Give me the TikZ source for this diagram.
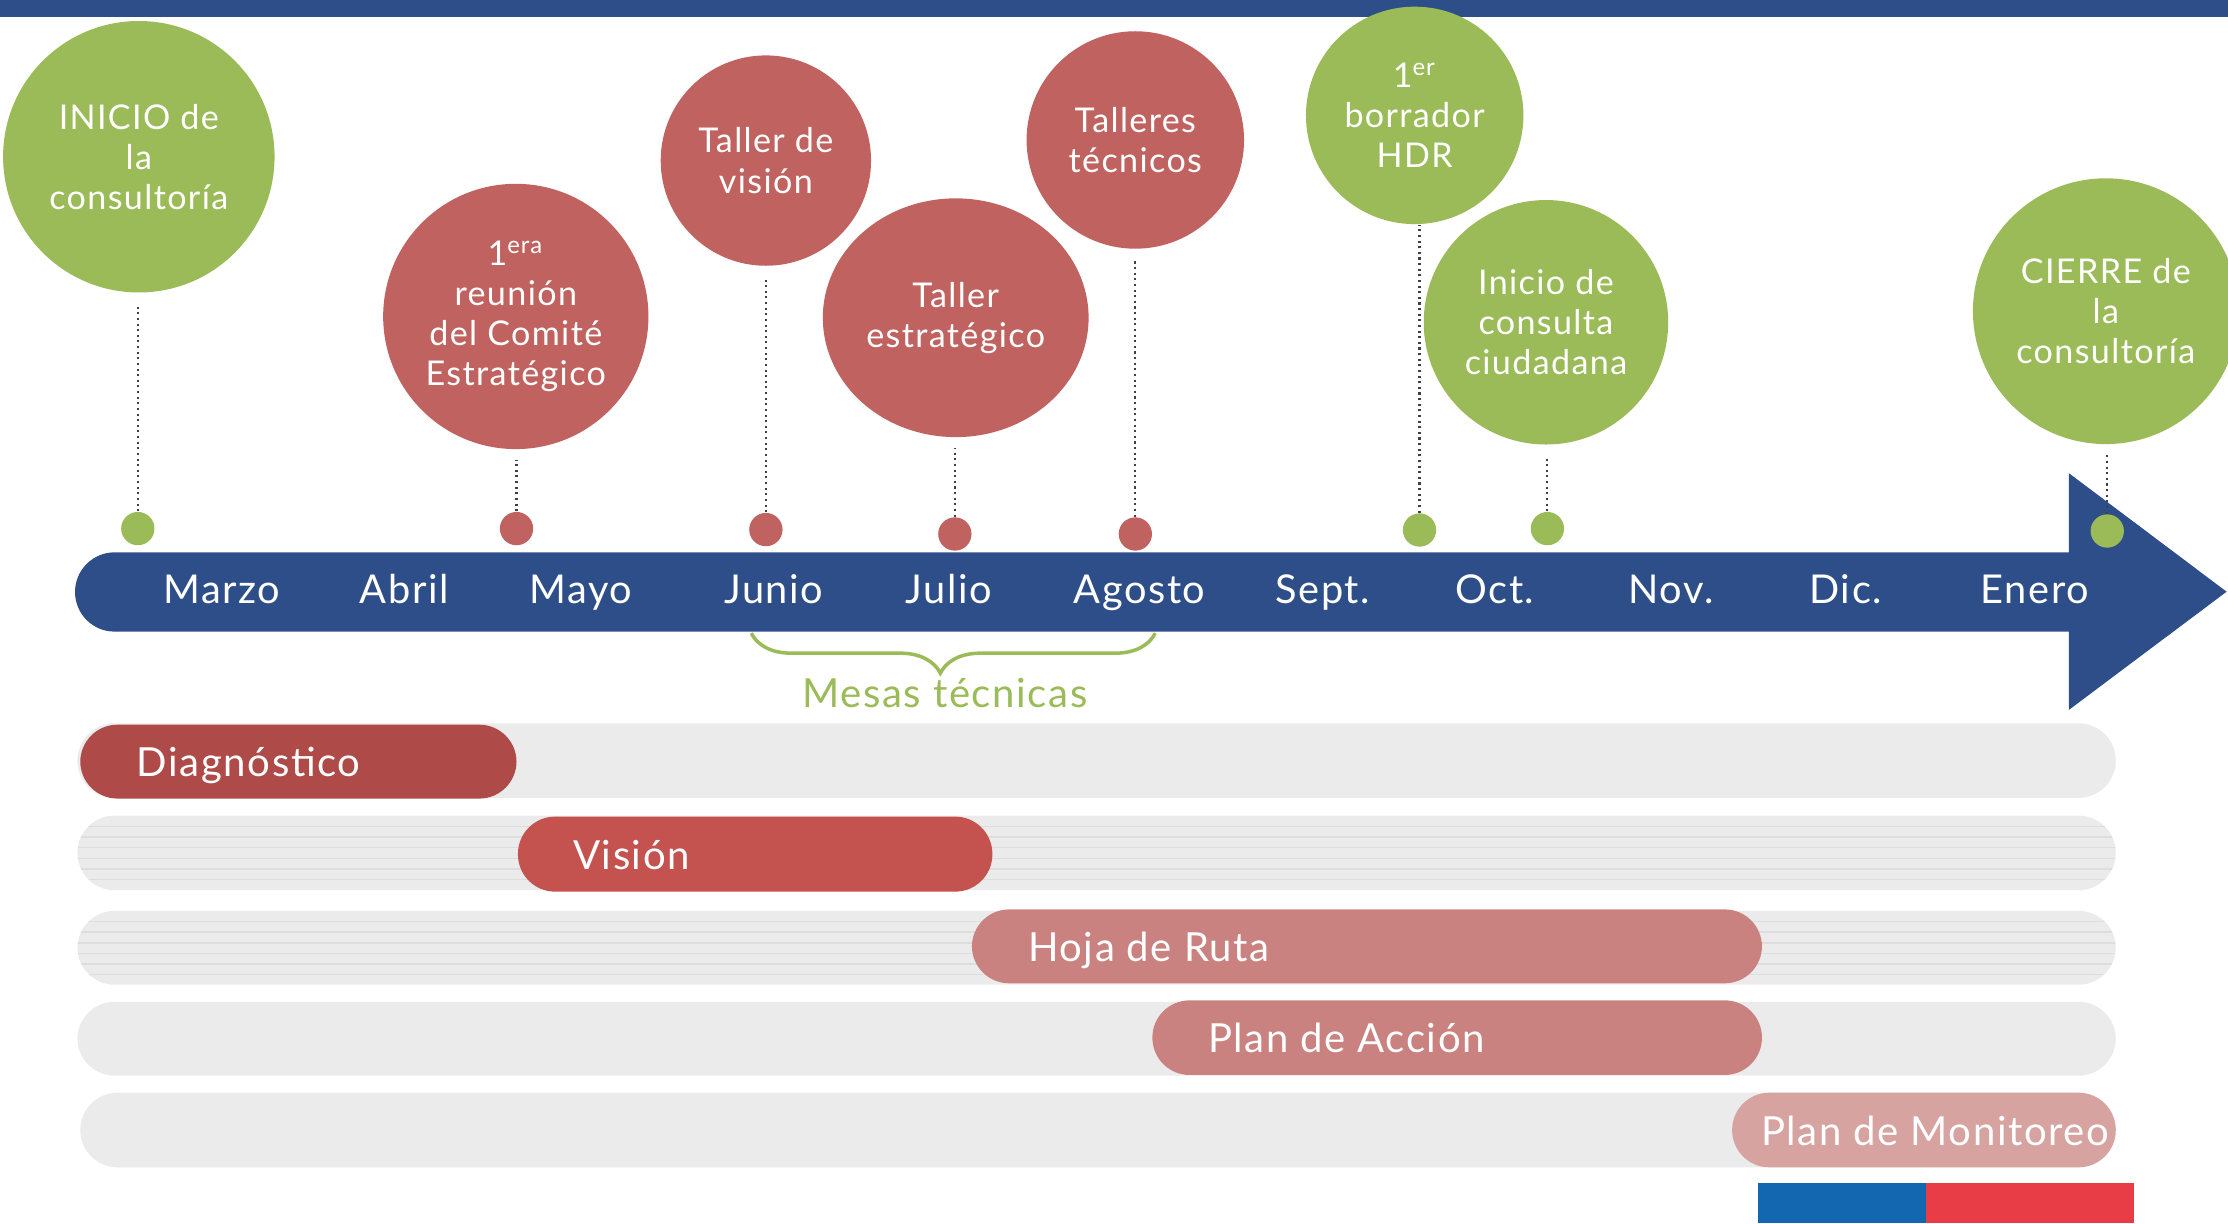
\documentclass[tikz,border=0pt]{standalone}
\usepackage{fontspec}
\setmainfont{Lato}[LetterSpace=4]
\usetikzlibrary{positioning}
\usetikzlibrary{shapes.geometric}
\usetikzlibrary{decorations.pathreplacing}
\definecolor{azul}{HTML}{2E4E8A}
\definecolor{verde}{HTML}{9BBB59}
\definecolor{rojo}{HTML}{C0625F}
\definecolor{gris}{HTML}{EBEBEB}
\definecolor{grisl}{HTML}{DDDDDD}
\definecolor{fase1}{HTML}{AE4A47}
\definecolor{fase2}{HTML}{C4524E}
\definecolor{fase3}{HTML}{C98280}
\definecolor{fase4}{HTML}{D6A3A1}
\definecolor{flagblue}{HTML}{1267B0}
\definecolor{flagred}{HTML}{E83C46}
\tikzset{hito/.style={circle, minimum size=#1, inner sep=0pt, text=white, align=center, font=\fontsize{9.7}{11.4}\selectfont}}
\tikzset{punto/.style={circle, minimum size=0.333cm, inner sep=0pt}}
\tikzset{guia/.style={densely dotted, line width=0.6pt, gray!50!black, shorten >=0.1cm}}
\tikzset{mes/.style={anchor=base, text=white, inner sep=0pt, font=\fontsize{11.3}{13}\selectfont}}
\tikzset{fondo/.style={gris, rounded corners=0.372cm}}
\tikzset{fase/.style={rounded corners=0.372cm}}
\tikzset{fasetxt/.style={anchor=base west, text=white, inner sep=0pt, font=\fontsize{11.4}{13}\selectfont}}

\begin{document}
\begin{tikzpicture}[x=0.01421cm, y=-0.01421cm]
\useasboundingbox (0,0) rectangle (1568,861);

% franja superior
\fill[azul] (0,0) rectangle (1568,12);

% linea de tiempo
\fill[azul] [rounded corners=0.396cm] (1456,444.5) -- (52.8,444.5) -- (52.8,388.7) [sharp corners] -- (1456,388.7)
  -- (1456,333) -- (1567,416.4) -- (1456,499.6) -- cycle;

% hitos
\node (inicio) [hito=2.714cm, fill=verde] at (97.7,110.3) {INICIO de\\la\\consultoría};
\node (reunion) [hito=2.652cm, fill=rojo] at (363,222.7) {1\textsuperscript{era}\\reunión\\del Comité\\Estratégico};
\node (tvision) [hito=2.103cm, fill=rojo] at (539,113) {Taller de\\visión};
\node (testrat) [hito=0pt, ellipse, minimum width=2.657cm, minimum height=2.387cm, fill=rojo] at (672.6,223.6) {Taller\\estratégico};
\node (ttecn) [hito=2.174cm, fill=rojo] at (799,98.5) {Talleres\\técnicos};
\node (borrador) [hito=2.174cm, fill=verde] at (995.6,81.2) {1\textsuperscript{er}\\borrador\\HDR};
\node (consulta) [hito=2.444cm, fill=verde] at (1088,226.8) {Inicio de\\consulta\\ciudadana};
\node (cierre) [hito=2.657cm, fill=verde] at (1482,219) {CIERRE de\\la\\consultoría};

% puntos sobre la linea
\node (p1) [punto, fill=verde] at (97,372) {};
\node (p2) [punto, fill=rojo] at (363.5,372) {};
\node (p3) [punto, fill=rojo] at (539,372.7) {};
\node (p4) [punto, fill=rojo] at (672,375.8) {};
\node (p5) [punto, fill=rojo] at (799,375.8) {};
\node (p6) [punto, fill=verde] at (999,373) {};
\node (p7) [punto, fill=verde] at (1089,372) {};
\node (p8) [punto, fill=verde] at (1483,373.7) {};

\draw[guia] (p1.north) -- (p1 |- inicio.south);
\draw[guia] (p2.north) -- (p2 |- reunion.south);
\draw[guia] (p3.north) -- (p3 |- tvision.south);
\draw[guia] (p4.north) -- (p4 |- testrat.south);
\draw[guia] (p5.north) -- (p5 |- ttecn.south);
\draw[guia, shorten >=0pt] (p6.north) -- (p6 |- borrador.south);
\draw[guia] (p7.north) -- (p7 |- consulta.south);
\draw[guia] (p8.north) -- (p8 |- cierre.south);

% meses
\node (marzo) [mes] at (156,425) {Marzo};
\node (abril) [mes] at (284.5,425) {Abril};
\node (mayo) [mes] at (408.7,425) {Mayo};
\node (junio) [mes] at (544.6,425) {Junio};
\node (julio) [mes] at (667.6,425) {Julio};
\node (agosto) [mes] at (802,425) {Agosto};
\node (sept) [mes] at (931,425) {Sept.};
\node (oct) [mes] at (1052,425) {Oct.};
\node (nov) [mes] at (1176,425) {Nov.};
\node (dic) [mes] at (1299,425) {Dic.};
\node (enero) [mes] at (1432,425) {Enero};

% mesas tecnicas
\coordinate (mesa1) at (528.7,445.6);
\coordinate (mesa2) at (813,445.6);
\draw[verde, line width=1pt, decorate, decoration={brace, mirror, amplitude=0.4cm, aspect=0.468}] (mesa1) -- (mesa2);
\node (mesas) [anchor=base, inner sep=0pt, text=verde, font=\fontsize{11.4}{13}\selectfont] at (665,497.7) {Mesas técnicas};

% fases
\fill[fondo] (54.5,509) rectangle (1489,561.5);
\fill[fondo] (54.5,574) rectangle (1489,626.5);
\fill[fondo] (54.5,641) rectangle (1489,693);
\fill[fondo] (54.5,705) rectangle (1489,757);
\fill[fondo] (56.5,769) rectangle (1489,821.5);
\begin{scope}
  \clip[rounded corners=0.372cm] (54.5,574) rectangle (1489,626.5);
  \foreach \k in {1,...,6}
    \draw[grisl, line width=0.4pt] (50,574+7.5*\k) -- (1495,574+7.5*\k);
\end{scope}
\begin{scope}
  \clip[rounded corners=0.372cm] (54.5,641) rectangle (1489,693);
  \foreach \k in {1,...,6}
    \draw[grisl, line width=0.4pt] (50,641+7.5*\k) -- (1495,641+7.5*\k);
\end{scope}

\fill[fase, fase1] (56.5,510) rectangle (363.5,562);
\fill[fase, fase2] (364.5,574.7) rectangle (698.4,627.5);
\fill[fase, fase3] (684,640) rectangle (1240,692);
\fill[fase, fase3] (811,704) rectangle (1240,756.5);
\fill[fase, fase4] (1219,769) rectangle (1489,821.5);

\node (diag) [fasetxt] at (95.9,546.6) {Diagnóstico};
\node (vision) [fasetxt] at (402.8,611.6) {Visión};
\node (hoja) [fasetxt] at (723,676.5) {Hoja de Ruta};
\node (accion) [fasetxt] at (849.7,741) {Plan de Acción};
\node (monit) [fasetxt] at (1239,806) {Plan de Monitoreo};

% bandera
\fill[flagblue] (1237,832.7) rectangle (1355.6,861);
\fill[flagred] (1355.6,832.7) rectangle (1502,861);
\end{tikzpicture}
\end{document}
